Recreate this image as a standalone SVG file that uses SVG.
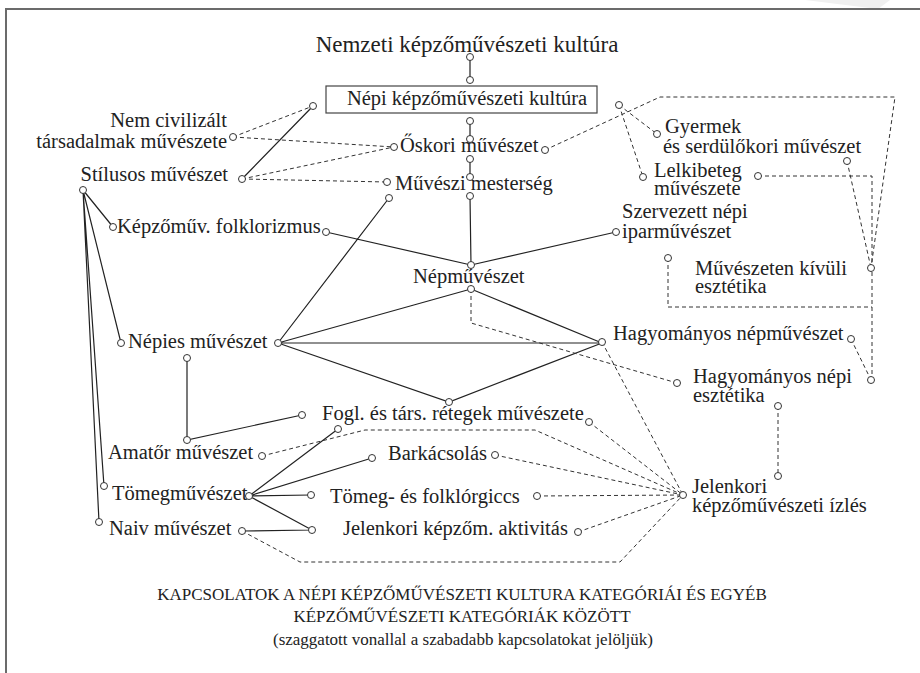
<svg xmlns="http://www.w3.org/2000/svg" width="920" height="673" viewBox="0 0 920 673">
<style>
text{font-family:"Liberation Serif","Times New Roman",serif;fill:#222;font-size:20.5px}
.t{font-size:23px}
.c{font-size:17px}
.s{stroke:#222;stroke-width:1.2;fill:none}
.d{stroke:#333;stroke-width:1;fill:none;stroke-dasharray:4 3}
circle{fill:#fff;stroke:#333;stroke-width:1}
.mid{text-anchor:middle}
.end{text-anchor:end}
</style>
<rect width="920" height="673" fill="#fff"/>
<polygon points="805,0 878,9 890,0" fill="#f0f0f0"/>
<path d="M5 9H920M6 9V673" stroke="#6b6b6b" stroke-width="2" fill="none"/>
<g id="connectors">
<path class="s" d="M470 57V80M470 121V139M470 159V177M470 196L471 265M242 179L313 106M83 190L113 227M83 190L121 343M83 190L104 486M83 190L99 522M326 232L471 265M616 232L471 265M278 343L389 198M278 343L471 289M278 343H602M278 343L449 402L602 343M471 289L602 343M187 358V440L302 415M249 496L338 429M249 496L372 458M249 496L311 495M249 496L312 530M242 531L312 530"/>
<path class="d" d="M233 137L313 106M233 137L394 147M242 179L394 147M242 179L387 182M545 150L660 97H895L871 268M619 105L657 134M619 105L643 177M847 161L871 268M758 176H872V380M668 258V307H872M851 339L871 380M471 289V323L677 383M778 406V476M602 342L683 495M589 422L683 495M262 456L365 430H535L683 495M495 455L683 495M537 496L683 495M578 532L683 495M242 531L300 562H620L683 495"/>
</g>
<g id="nemzeti"><text class="t mid" x="467" y="52">Nemzeti képzőművészeti kultúra</text><circle cx="470" cy="57" r="3.5"/></g>
<g id="nepi"><rect x="326" y="86" width="271" height="27" fill="#fff" stroke="#444" stroke-width="1.2"/><text class="mid" x="467" y="105">Népi képzőművészeti kultúra</text><circle cx="470" cy="80" r="3.5"/><circle cx="470" cy="121" r="3.5"/><circle cx="313" cy="106" r="3.5"/><circle cx="619" cy="105" r="3.5"/></g>
<g id="oskori"><text x="400" y="152">Őskori művészet</text><circle cx="394" cy="147" r="3.5"/><circle cx="545" cy="150" r="3.5"/><circle cx="470" cy="139" r="3.5"/><circle cx="470" cy="159" r="3.5"/></g>
<g id="muveszi"><text x="395" y="190">Művészi mesterség</text><circle cx="387" cy="182" r="3.5"/><circle cx="470" cy="177" r="3.5"/><circle cx="470" cy="196" r="3.5"/><circle cx="389" cy="198" r="3.5"/></g>
<g id="nemciv"><text class="end" x="227" y="127">Nem civilizált</text><text class="end" x="227" y="148">társadalmak művészete</text><circle cx="233" cy="137" r="3.5"/></g>
<g id="stilusos"><text class="end" x="228" y="181">Stílusos művészet</text><circle cx="242" cy="179" r="3.5"/><circle cx="83" cy="190" r="3.5"/></g>
<g id="folklor"><text x="117" y="233">Képzőműv. folklorizmus</text><circle cx="113" cy="227" r="3.5"/><circle cx="326" cy="232" r="3.5"/></g>
<g id="szervezett"><text x="622" y="218">Szervezett népi</text><text x="622" y="238">iparművészet</text><circle cx="616" cy="232" r="3.5"/><circle cx="668" cy="258" r="3.5"/></g>
<g id="nepmuveszet"><text x="413" y="283">Népművészet</text><circle cx="471" cy="265" r="3.5"/><circle cx="471" cy="289" r="3.5"/></g>
<g id="nepies"><text x="128" y="348">Népies művészet</text><circle cx="121" cy="343" r="3.5"/><circle cx="278" cy="343" r="3.5"/><circle cx="187" cy="358" r="3.5"/></g>
<g id="hagynep"><text x="613" y="340">Hagyományos népművészet</text><circle cx="602" cy="342" r="3.5"/><circle cx="851" cy="339" r="3.5"/></g>
<g id="hagyeszt"><text x="693" y="383">Hagyományos népi</text><text x="693" y="402">esztétika</text><circle cx="677" cy="383" r="3.5"/><circle cx="871" cy="380" r="3.5"/><circle cx="778" cy="406" r="3.5"/></g>
<g id="gyermek"><text x="665" y="133">Gyermek</text><text x="663" y="153">és serdülőkori művészet</text><circle cx="657" cy="134" r="3.5"/><circle cx="847" cy="161" r="3.5"/></g>
<g id="lelki"><text x="654" y="177">Lelkibeteg</text><text x="654" y="195">művészete</text><circle cx="643" cy="177" r="3.5"/><circle cx="758" cy="176" r="3.5"/></g>
<g id="kivuli"><text x="695" y="275">Művészeten kívüli</text><text x="695" y="293">esztétika</text><circle cx="871" cy="268" r="3.5"/></g>
<g id="fogl"><text x="322" y="420">Fogl. és társ. rétegek művészete</text><circle cx="302" cy="415" r="3.5"/><circle cx="589" cy="422" r="3.5"/><circle cx="449" cy="402" r="3.5"/><circle cx="338" cy="429" r="3.5"/></g>
<g id="amator"><text x="108" y="459">Amatőr művészet</text><circle cx="262" cy="456" r="3.5"/><circle cx="187" cy="440" r="3.5"/></g>
<g id="barkacs"><text x="388" y="460">Barkácsolás</text><circle cx="372" cy="458" r="3.5"/><circle cx="495" cy="455" r="3.5"/></g>
<g id="tomegm"><text x="112" y="500">Tömegművészet</text><circle cx="104" cy="486" r="3.5"/><circle cx="249" cy="496" r="3.5"/></g>
<g id="giccs"><text x="330" y="503">Tömeg- és folklórgiccs</text><circle cx="311" cy="495" r="3.5"/><circle cx="537" cy="496" r="3.5"/></g>
<g id="naiv"><text x="109" y="535">Naiv művészet</text><circle cx="99" cy="522" r="3.5"/><circle cx="242" cy="531" r="3.5"/></g>
<g id="aktiv"><text x="343" y="535">Jelenkori képzőm. aktivitás</text><circle cx="312" cy="530" r="3.5"/><circle cx="578" cy="532" r="3.5"/></g>
<g id="jelenkori"><text x="692" y="493">Jelenkori</text><text x="692" y="512">képzőművészeti ízlés</text><circle cx="683" cy="495" r="3.5"/><circle cx="778" cy="476" r="3.5"/></g>
<g id="caption"><text class="c mid" x="462" y="600">KAPCSOLATOK A NÉPI KÉPZŐMŰVÉSZETI KULTURA KATEGÓRIÁI ÉS EGYÉB</text><text class="c mid" x="462" y="622">KÉPZŐMŰVÉSZETI KATEGÓRIÁK KÖZÖTT</text><text class="c mid" x="463" y="645">(szaggatott vonallal a szabadabb kapcsolatokat jelöljük)</text></g>
</svg>
